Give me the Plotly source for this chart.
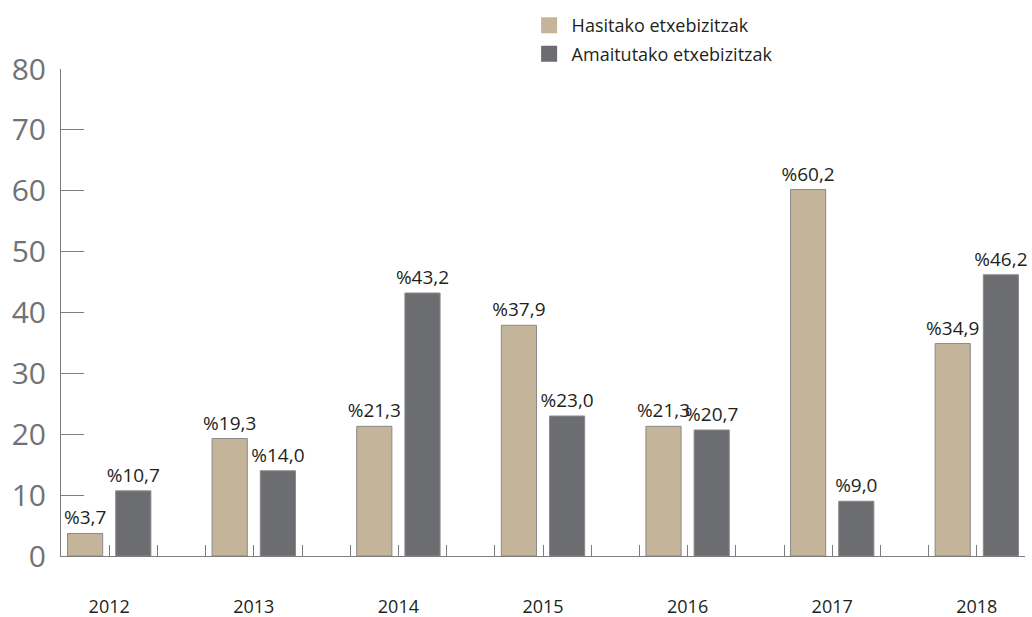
import plotly.graph_objects as go

years = ["2012", "2013", "2014", "2015", "2016", "2017", "2018"]
hasitako = [3.7, 19.3, 21.3, 37.9, 21.3, 60.2, 34.9]
amaitutako = [10.7, 14.0, 43.2, 23.0, 20.7, 9.0, 46.2]
series_names = ["Hasitako etxebizitzak", "Amaitutako etxebizitzak"]
y_ticks = [0, 10, 20, 30, 40, 50, 60, 70, 80]

BEIGE = "#c4b49a"
DARK = "#6c6d70"
AXIS = "#7d7d7d"

def fmt(v):
    return "%" + f"{v:.1f}".replace(".", ",")

n = len(years)
x_beige = [3 * i + 0.5 for i in range(n)]
x_dark = [3 * i + 1.5 for i in range(n)]
n_slots = 3 * n - 1

fig = go.Figure()
for xs, vals, color in [(x_beige, hasitako, BEIGE), (x_dark, amaitutako, DARK)]:
    fig.add_trace(go.Bar(
        x=xs, y=vals, width=0.73,
        marker=dict(color=color, line=dict(color="#8a8a8a", width=1)),
        text=[fmt(v) for v in vals], textposition="outside",
        constraintext="none", cliponaxis=False,
        textfont=dict(family="Open Sans", size=19, color="#231f20"),
        showlegend=False, hoverinfo="skip",
    ))

for name, color, grp in [(series_names[0], BEIGE, "a"), (series_names[1], DARK, "b")]:
    fig.add_trace(go.Scatter(
        x=[None], y=[None], mode="markers", name=name, legendgroup=grp,
        marker=dict(symbol="square", size=16, color=color),
    ))

tickvals = list(range(0, n_slots + 1))
ticktext = ["" for _ in tickvals]
for i, yname in enumerate(years):
    ticktext[3 * i + 1] = yname

fig.update_layout(
    width=1032, height=617,
    margin=dict(l=61, r=7, t=69, b=61, autoexpand=False),
    paper_bgcolor="white", plot_bgcolor="white",
    font=dict(family="Open Sans", color="#231f20"),
    bargap=0,
    legend=dict(
        x=0.483, y=1.127, xanchor="left", yanchor="top",
        font=dict(family="Open Sans", size=18, color="#231f20"),
        tracegroupgap=2, itemwidth=35, bgcolor="rgba(0,0,0,0)",
    ),
    xaxis=dict(
        range=[0, n_slots], tickmode="array", tickvals=tickvals, ticktext=ticktext,
        showgrid=False, zeroline=False, showline=True, linecolor=AXIS, linewidth=1,
        ticks="inside", ticklen=11, tickcolor=AXIS, tickwidth=1,
        tickfont=dict(family="Open Sans", size=18, color="#231f20"),
        ticklabelstandoff=34, automargin=False,
    ),
    yaxis=dict(
        range=[0, 80], tickmode="array", tickvals=y_ticks,
        showgrid=False, zeroline=False, showline=True, linecolor=AXIS, linewidth=1,
        ticks="inside", ticklen=23, tickcolor=AXIS, tickwidth=1,
        tickfont=dict(family="Open Sans", size=30, color="#717275"),
        ticklabelstandoff=8, automargin=False,
    ),
)

fig.write_html(
    "out.html",
    config={"displayModeBar": False, "staticPlot": True},
    post_script="document.body.style.margin='0px';document.body.style.overflow='hidden';",
)
